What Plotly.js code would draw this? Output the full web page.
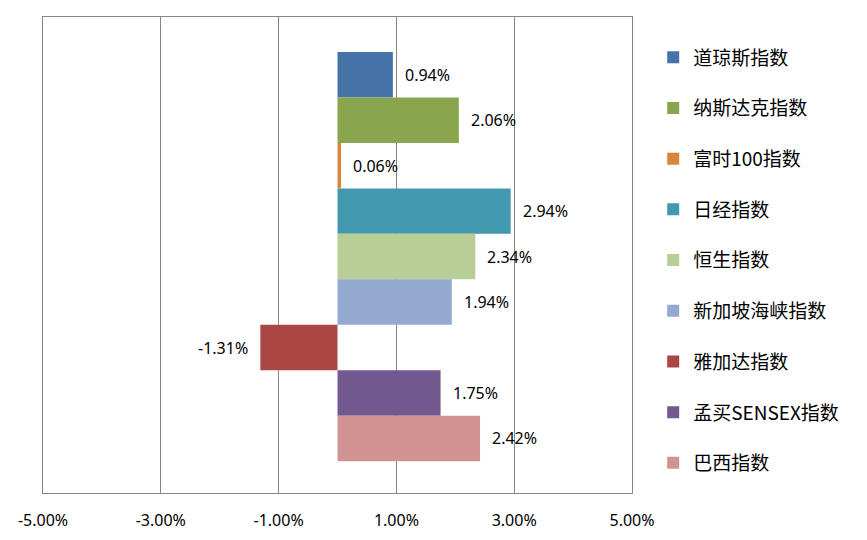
<!DOCTYPE html>
<html><head><meta charset="utf-8">
<script src="https://cdn.plot.ly/plotly-3.0.1.min.js"></script>
<style>body{margin:0;background:#fff}#chart{width:867px;height:540px}</style>
</head><body><div id="chart"></div>
<script>
const names = ["道琼斯指数","纳斯达克指数","富时100指数","日经指数","恒生指数","新加坡海峡指数","雅加达指数","孟买SENSEX指数","巴西指数"];
const values = [0.94, 2.06, 0.06, 2.94, 2.34, 1.94, -1.31, 1.75, 2.42];
const colors = ["#4572A7","#89A54E","#DB843D","#4198AF","#B9CD96","#93A9CF","#AA4643","#71588F","#D19392"];
const tickVals = [-5, -3, -1, 1, 3, 5];
const tickText = ["-5.00%","-3.00%","-1.00%","1.00%","3.00%","5.00%"];

const traces = names.map((n, i) => ({
  type: 'bar', orientation: 'h', name: n,
  x: [values[i]], y: [i], width: [1],
  marker: {color: colors[i], line: {width: 0}},
  legendgroup: 'g' + i, hoverinfo: 'skip'
}));
const annotations = values.map((v, i) => ({
  x: v, y: i, xref: 'x', yref: 'y',
  text: v.toFixed(2) + '%', showarrow: false,
  xanchor: v >= 0 ? 'left' : 'right', xshift: v >= 0 ? 10 : -10,
  font: {family: 'Noto Sans, sans-serif', size: 16, color: '#000'}
}));
const layout = {
  width: 867, height: 540,
  margin: {l: 43, r: 235, t: 17, b: 47},
  paper_bgcolor: '#fff', plot_bgcolor: '#fff',
  barmode: 'overlay', showlegend: true,
  xaxis: {range: [-5, 5], tickvals: tickVals, ticktext: tickText, showgrid: true,
    gridcolor: '#868686', gridwidth: 1, zeroline: false, showline: true, mirror: true,
    linecolor: '#868686', linewidth: 1, ticks: '', ticklabelstandoff: 13,
    tickfont: {family: 'Noto Sans, sans-serif', size: 16, color: '#000'}},
  yaxis: {range: [9.2, -1.27], showticklabels: false, showgrid: false, zeroline: false,
    showline: true, mirror: true, linecolor: '#868686', linewidth: 1, ticks: ''},
  legend: {x: 1.036, xanchor: 'left', y: 0.955, yanchor: 'top', traceorder: 'grouped',
    tracegroupgap: 23, font: {family: 'Noto Sans CJK SC, sans-serif', size: 19, color: '#000'},
    bgcolor: 'rgba(0,0,0,0)'},
  annotations: annotations
};
Plotly.newPlot('chart', traces, layout, {staticPlot: true});
</script></body></html>
